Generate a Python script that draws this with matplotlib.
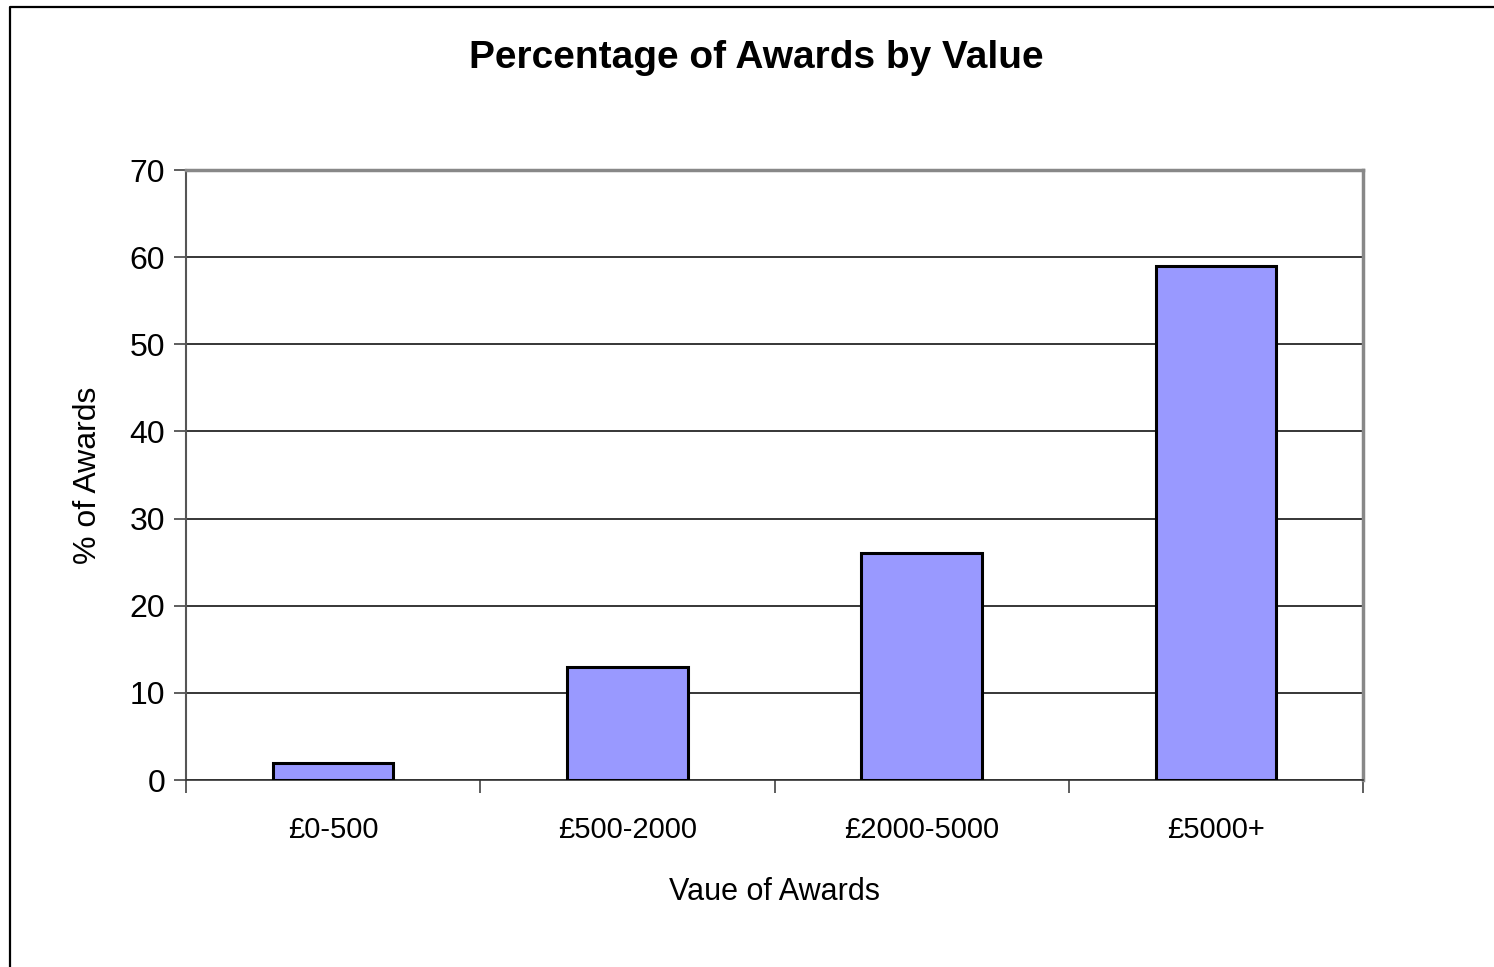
import matplotlib
matplotlib.use('Agg')
import matplotlib.pyplot as plt
from matplotlib.lines import Line2D
import numpy as np

categories = ['£0-500', '£500-2000', '£2000-5000', '£5000+']
pct_awards = [2, 13, 26, 59]
yticks = [0, 10, 20, 30, 40, 50, 60, 70]

plt.rcParams['font.family'] = ['Liberation Sans', 'DejaVu Sans']

W, H = 1494, 967
fig = plt.figure(figsize=(W/100, H/100), dpi=100)
ax = fig.add_axes([186/W, 1-780/H, (1363-186)/W, (780-170)/H])

x = np.arange(len(categories))
ax.bar(x, pct_awards, width=0.41, color='#9999FF', edgecolor='black', linewidth=2.2, zorder=3)

ax.set_xlim(-0.5, len(categories)-0.5)
ax.set_ylim(0, 70)
ax.set_yticks(yticks)
ax.set_yticklabels([str(v) for v in yticks], fontsize=23)
ax.yaxis.grid(True, color='black', linewidth=1.1)
ax.set_axisbelow(True)

# category labels centred, ticks on boundaries
ax.set_xticks(x)
ax.set_xticklabels(categories, fontsize=21)
ax.tick_params(axis='x', length=0, pad=26)
ax.set_xticks(np.arange(len(categories)+1)-0.5, minor=True)
ax.tick_params(axis='x', which='minor', length=9, width=1.1, color='#333333')
ax.tick_params(axis='y', length=9, width=1.1, color='#333333', pad=6)

for s in ['top', 'right']:
    ax.spines[s].set_color('#888888')
    ax.spines[s].set_linewidth(2.5)
ax.spines['left'].set_color('#555555')
ax.spines['left'].set_linewidth(1.5)
ax.spines['bottom'].set_color('#333333')
ax.spines['bottom'].set_linewidth(1.2)

ax.set_ylabel('% of Awards', fontsize=23, labelpad=19)
ax.set_xlabel('Vaue of Awards', fontsize=22, labelpad=24)
fig.text(756/W, 1-58/H, 'Percentage of Awards by Value', fontsize=28, fontweight='bold',
         ha='center', va='center')

# outer chart frame (left and top edges visible)
fig.add_artist(Line2D([9.5/W, 9.5/W, 1], [0, 1-6.5/H, 1-6.5/H], transform=fig.transFigure,
                      color='black', linewidth=1.6))

fig.savefig('out.png', dpi=100)
